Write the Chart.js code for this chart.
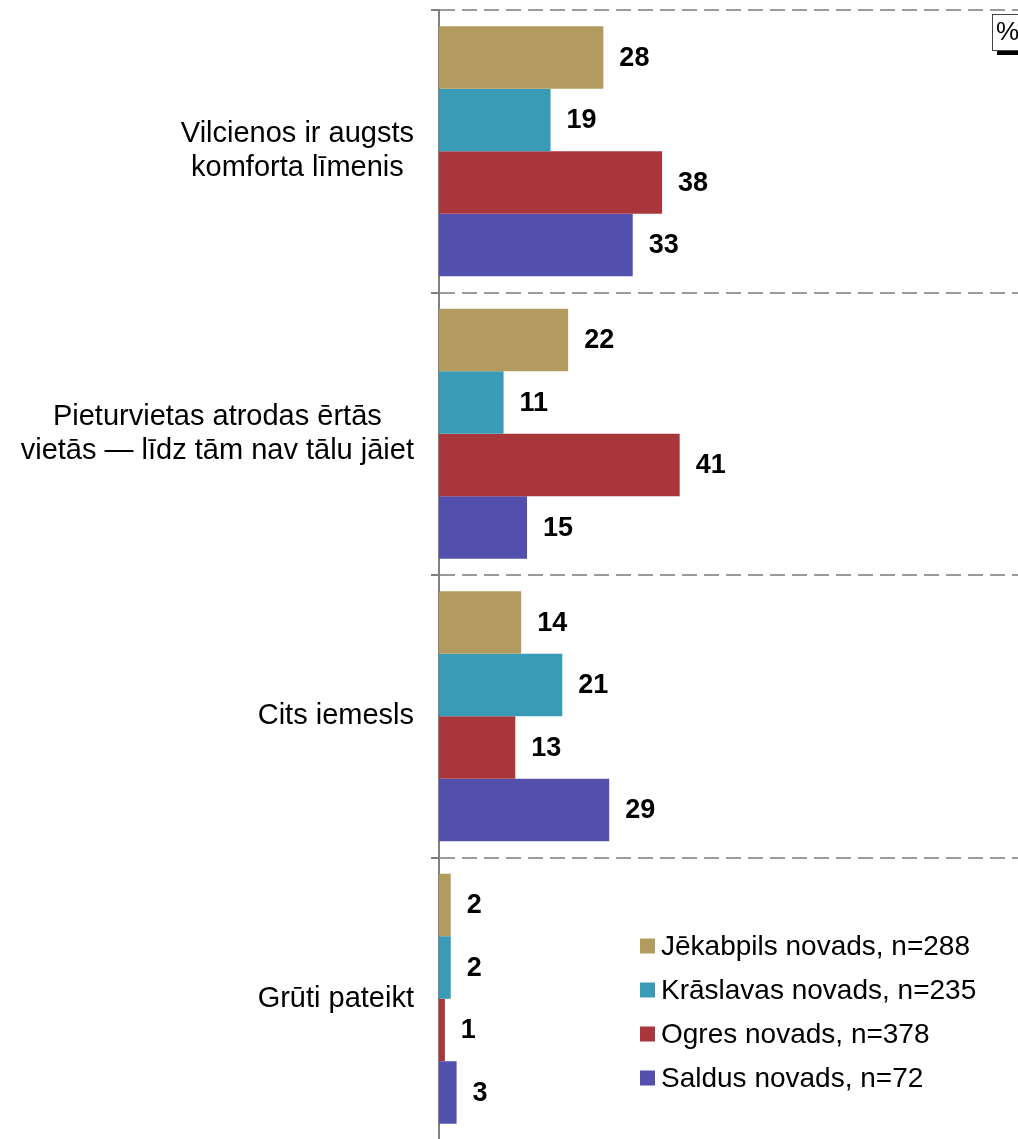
<!DOCTYPE html>
<html lang="lv">
<head>
<meta charset="utf-8">
<title>Iemesli</title>
<script src="https://cdn.jsdelivr.net/npm/chart.js@4.4.1/dist/chart.umd.min.js"></script>
<style>
  html, body { margin: 0; padding: 0; background: #fff; overflow: hidden; }
  #wrap { position: relative; width: 1030px; height: 1140px; }
</style>
</head>
<body>
<div id="wrap"><canvas id="grafiks"></canvas></div>
<script>
const kategorijas = [
  ["Vilcienos ir augsts", "komforta līmenis"],
  ["Pieturvietas atrodas ērtās", "vietās — līdz tām nav tālu jāiet"],
  ["Cits iemesls"],
  ["Grūti pateikt"]
];
const jekabpils = [28, 22, 14, 2];
const kraslava = [19, 11, 21, 2];
const ogre = [38, 41, 13, 1];
const saldus = [33, 15, 29, 3];
const serijuNosaukumi = [
  "Jēkabpils novads, n=288",
  "Krāslavas novads, n=235",
  "Ogres novads, n=378",
  "Saldus novads, n=72"
];
const krasas = ["#B39B5F", "#3A9BB6", "#A8363A", "#524FAD"];

const FONT = 'Arial, "Liberation Sans", sans-serif';

// kategoriju nosaukumi: rindas centrētas savā starpā, bloks pielīdzināts pa labi
const labelsPlugin = {
  id: "kategorijuNosaukumi",
  afterDraw(chart) {
    const c = chart.ctx;
    const y = chart.scales.y;
    const right = y.right - 25;
    c.save();
    c.font = "29px " + FONT;
    c.fillStyle = "#000";
    c.textAlign = "center";
    c.textBaseline = "middle";
    kategorijas.forEach((lines, i) => {
      const center = y.getPixelForTick(i);
      const maxW = Math.max(...lines.map(l => c.measureText(l).width));
      const cx = right - maxW / 2;
      lines.forEach((line, j) => {
        c.fillText(line, cx, center + (j - (lines.length - 1) / 2) * 34);
      });
    });
    c.restore();
  }
};

const valuesPlugin = {
  id: "vertibas",
  afterDatasetsDraw(chart) {
    const c = chart.ctx;
    c.save();
    c.font = "bold 27px " + FONT;
    c.fillStyle = "#000";
    c.textAlign = "left";
    c.textBaseline = "middle";
    chart.data.datasets.forEach((ds, d) => {
      chart.getDatasetMeta(d).data.forEach((bar, i) => {
        c.fillText(String(ds.data[i]), bar.x + 16, bar.y + 1);
      });
    });
    c.restore();
  }
};

const legendPlugin = {
  id: "legenda",
  afterDraw(chart) {
    const c = chart.ctx;
    c.save();
    c.font = "28px " + FONT;
    c.textBaseline = "middle";
    c.textAlign = "left";
    chart.data.datasets.forEach((ds, d) => {
      const cy = 946 + d * 44;
      c.fillStyle = ds.backgroundColor;
      c.fillRect(640, cy - 7.5, 15, 15);
      c.fillStyle = "#000";
      c.fillText(ds.label, 661, cy + 1);
    });

    // "%" lodziņš augšējā labajā stūrī
    c.fillStyle = "#000";
    c.fillRect(997, 50, 40, 5);
    c.fillStyle = "#fff";
    c.fillRect(992, 14, 40, 36);
    c.strokeStyle = "#444";
    c.lineWidth = 1;
    c.strokeRect(992.5, 14.5, 40, 36);
    c.fillStyle = "#000";
    c.font = "26px " + FONT;
    c.fillText("%", 996, 33);
    c.restore();
  }
};

new Chart(document.getElementById("grafiks"), {
  type: "bar",
  data: {
    labels: kategorijas.map(l => l.join(" ")),
    datasets: [jekabpils, kraslava, ogre, saldus].map((vals, i) => ({
      label: serijuNosaukumi[i],
      data: vals,
      backgroundColor: krasas[i],
      borderWidth: 0,
      categoryPercentage: 0.885,
      barPercentage: 1
    }))
  },
  options: {
    indexAxis: "y",
    responsive: true,
    maintainAspectRatio: false,
    animation: false,
    layout: { padding: { top: 10, right: 4, bottom: 0, left: 0 } },
    plugins: {
      legend: { display: false },
      tooltip: { enabled: false }
    },
    scales: {
      x: {
        display: false,
        min: 0,
        max: 100
      },
      y: {
        afterFit(scale) { scale.width = 439; },
        ticks: { display: false },
        grid: {
          offset: true,
          color: "#9a9a9a",
          lineWidth: 2,
          drawTicks: true,
          tickLength: 8,
          tickColor: "#000",
          tickWidth: 1
        },
        border: {
          display: true,
          color: "#808080",
          width: 2,
          dash: [15, 7]
        }
      }
    }
  },
  plugins: [labelsPlugin, valuesPlugin, legendPlugin]
});
</script>
</body>
</html>
